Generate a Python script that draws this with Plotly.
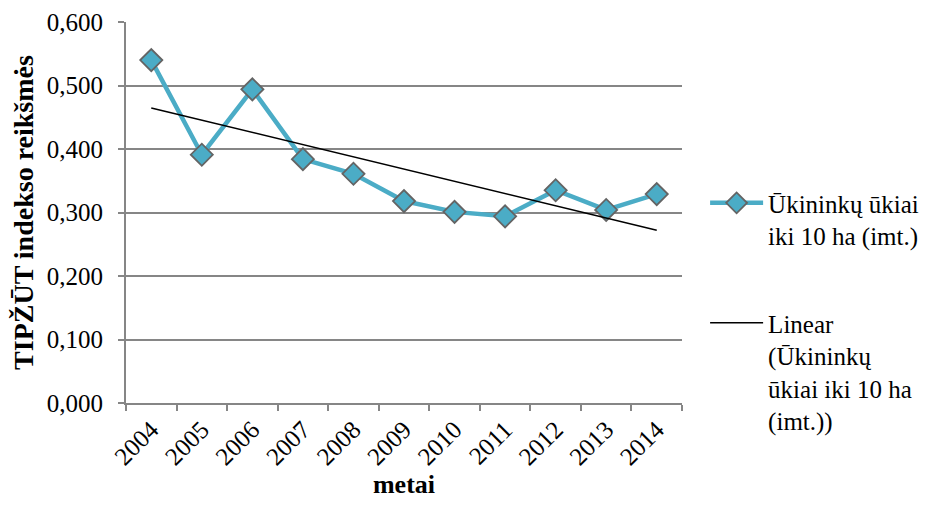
import numpy as np
import plotly.graph_objects as go

years = ["2004", "2005", "2006", "2007", "2008", "2009", "2010", "2011", "2012", "2013", "2014"]
values = [0.540, 0.391, 0.494, 0.384, 0.361, 0.318, 0.301, 0.294, 0.335, 0.304, 0.329]
y_ticks = [0.0, 0.1, 0.2, 0.3, 0.4, 0.5, 0.6]

series_name = "Ūkininkų ūkiai<br>iki 10 ha (imt.)"
trend_name = "Linear<br>(Ūkininkų<br>ūkiai iki 10 ha<br>(imt.))"

idx = np.arange(len(values))
slope, intercept = np.polyfit(idx, values, 1)
trend = slope * idx + intercept

FONT = "Liberation Serif"

fig = go.Figure()
fig.add_trace(go.Scatter(
    x=years, y=values, mode="lines+markers", name=series_name,
    legendgroup="a",
    line=dict(color="#4BACC6", width=4.5),
    marker=dict(symbol="diamond", size=17, color="#4BACC6",
                line=dict(color="#646464", width=1.8)),
))
fig.add_trace(go.Scatter(
    x=years, y=trend, mode="lines", name=trend_name,
    legendgroup="b",
    line=dict(color="#000000", width=1.5),
))

fig.update_layout(
    width=927, height=502,
    margin=dict(l=118, r=253, t=14, b=107),
    paper_bgcolor="white", plot_bgcolor="white",
    separators=", ",
    font=dict(family=FONT, size=25, color="#000000"),
    showlegend=True,
    legend=dict(x=0.752, xref="container", y=0.585, yref="paper",
                xanchor="left", yanchor="top",
                valign="top", tracegroupgap=52, itemwidth=53,
                font=dict(family=FONT, size=25, color="#000000"),
                bgcolor="rgba(0,0,0,0)"),
    xaxis=dict(
        type="category", tickson="boundaries", ticks="outside", ticklen=6,
        tickcolor="#868686", tickwidth=1.5, automargin=False,
        showline=True, linecolor="#868686", linewidth=2,
        showgrid=False, tickangle=-45,
        tickfont=dict(family=FONT, size=25),
        title=dict(text="<b>metai</b>", font=dict(family=FONT, size=26), standoff=6),
        range=[-0.5, len(years) - 0.5],
    ),
    yaxis=dict(
        range=[0, 0.6], tickvals=y_ticks, tickformat=".3f",
        ticks="outside", ticklen=6, tickcolor="#868686", tickwidth=1.5,
        automargin=False, ticklabelstandoff=10,
        showline=True, linecolor="#868686", linewidth=2,
        showgrid=True, gridcolor="#868686", gridwidth=1.5,
        zeroline=False,
        tickfont=dict(family=FONT, size=25),
        title=dict(text="<b>TIPŽŪT indekso reikšmės</b>", font=dict(family=FONT, size=28), standoff=10),
    ),
)

fig.write_html("out.html")
